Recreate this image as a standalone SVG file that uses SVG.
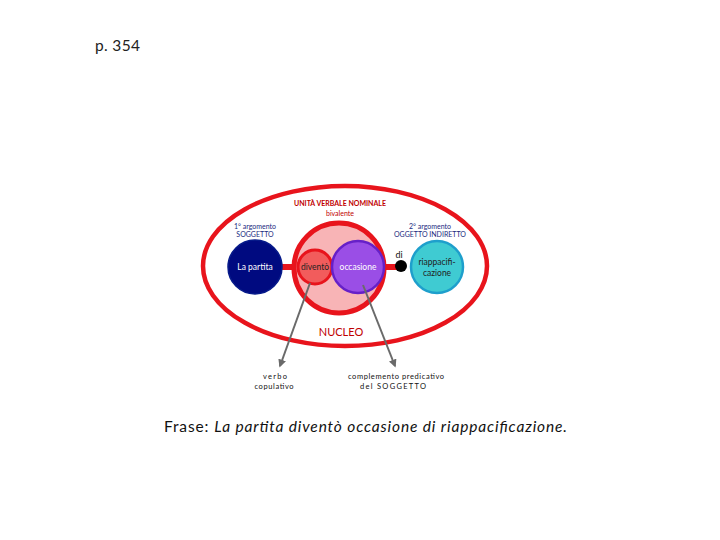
<svg xmlns="http://www.w3.org/2000/svg" width="720" height="540" viewBox="0 0 720 540">
<style>
text{font-family:Lato,"Open Sans","Liberation Sans",sans-serif;text-anchor:middle}
.sm{font-size:7px}
.bt{font-size:7.5px}
.navy{fill:#1a2a80}
.red{fill:#c00000}
.lbl{font-size:8.5px}
.conn{stroke:#6a6a6a;stroke-width:2;fill:none;marker-end:url(#ah)}
</style>
<defs>
<marker id="ah" viewBox="0 0 10 10" refX="8" refY="5" markerWidth="4" markerHeight="4" orient="auto">
<path d="M0,0 L10,5 L0,10 z" fill="#6a6a6a"/>
</marker>
</defs>
<rect width="720" height="540" fill="#fff"/>
<text x="95" y="51" style="font-size:15.5px;text-anchor:start;fill:#222" textLength="45" lengthAdjust="spacing">p. 354</text>
<g id="nucleo">
<ellipse cx="345" cy="266" rx="142" ry="80" fill="none" stroke="#e8141c" stroke-width="4.5"/>
<text x="341" y="336" style="font-size:11px;fill:#c00000">NUCLEO</text>
</g>
<g id="links">
<line x1="280" y1="267" x2="300" y2="267" stroke="#e8141c" stroke-width="6"/>
<line x1="383" y1="267" x2="402" y2="267" stroke="#e8141c" stroke-width="6"/>
</g>
<g id="unita">
<circle cx="339" cy="268" r="45" fill="#f8b4b6" stroke="#e8141c" stroke-width="5"/>
<text class="sm red" x="340" y="206" style="font-weight:bold" textLength="92" lengthAdjust="spacing">UNITÀ VERBALE NOMINALE</text>
<text class="sm red" x="340" y="216">bivalente</text>
</g>
<g id="soggetto">
<circle cx="255" cy="267" r="27" fill="#000a80" stroke="#061a8a" stroke-width="1.5"/>
<text class="lbl" x="255" y="270" fill="#fff">La partita</text>
<text class="sm navy" x="255" y="229">1° argomento</text>
<text class="sm navy" x="255" y="237">SOGGETTO</text>
</g>
<g id="divento">
<circle cx="315" cy="267" r="17" fill="#f25c5c" stroke="#e8141c" stroke-width="3"/>
<text class="lbl" x="315" y="270" fill="#222">diventò</text>
</g>
<g id="occasione">
<circle cx="358" cy="267" r="26" fill="#9a4ee6" stroke="#6620c8" stroke-width="2.5"/>
<text class="lbl" x="358" y="270" fill="#fff">occasione</text>
</g>
<g id="di">
<circle cx="401" cy="266" r="6" fill="#000"/>
<text class="lbl" x="399" y="258" fill="#111" style="font-size:9px">di</text>
</g>
<g id="riappacificazione">
<circle cx="437" cy="267" r="26" fill="#3fcbd2" stroke="#1e9fcc" stroke-width="2.5"/>
<text class="lbl" x="437" y="265" fill="#222">riappacifi-</text>
<text class="lbl" x="437" y="276" fill="#222">cazione</text>
<text class="sm navy" x="430" y="229">2° argomento</text>
<text class="sm navy" x="430" y="237">OGGETTO INDIRETTO</text>
</g>
<g id="connectors">
<line class="conn" x1="310" y1="283" x2="280" y2="366"/>
<line class="conn" x1="363" y1="285" x2="395" y2="366"/>
</g>
<g id="verbo">
<text class="bt" x="275" y="379" fill="#111" textLength="24" lengthAdjust="spacing">verbo</text>
<text class="bt" x="274" y="389" fill="#111" textLength="39" lengthAdjust="spacing">copulativo</text>
</g>
<g id="complemento">
<text class="bt" x="396" y="379" fill="#111" textLength="96" lengthAdjust="spacing">complemento predicativo</text>
<text class="bt" x="393" y="389" fill="#111" textLength="66" lengthAdjust="spacing">del SOGGETTO</text>
</g>
<text x="164" y="432" style="font-size:15.5px;text-anchor:start;fill:#111" textLength="403" lengthAdjust="spacing">Frase: <tspan font-style="italic">La partita diventò occasione di riappacificazione.</tspan></text>
</svg>
